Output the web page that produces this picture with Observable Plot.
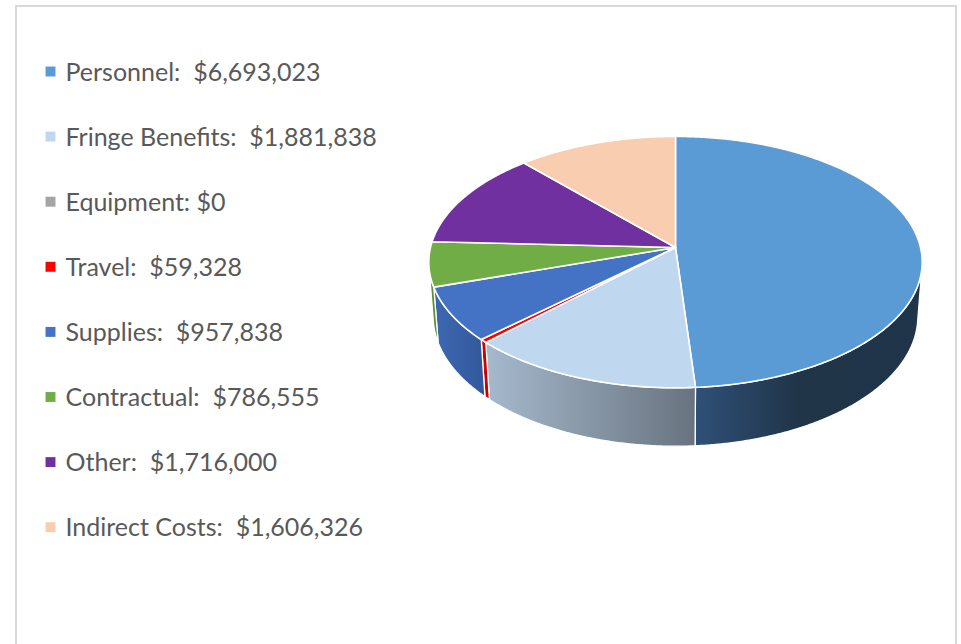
<!DOCTYPE html>
<html><head><meta charset="utf-8">
<script src="https://cdn.jsdelivr.net/npm/d3@7"></script>
<script src="https://cdn.jsdelivr.net/npm/@observablehq/plot@0.6"></script>
<style>
html,body{margin:0;padding:0;background:#fff;}
#chart{position:absolute;left:0;top:0;}
#frame{position:absolute;left:15px;top:5px;width:942px;height:700px;border:2px solid #d9d9d9;box-sizing:border-box;z-index:2;pointer-events:none;}
</style></head><body>
<div id="chart"></div>
<div id="frame"></div>
<script>
// ---- data ----
const categories = ["Personnel", "Fringe Benefits", "Equipment", "Travel", "Supplies", "Contractual", "Other", "Indirect Costs"];
const values = [6693023, 1881838, 0, 59328, 957838, 786555, 1716000, 1606326];
const labels = ["Personnel:  $6,693,023", "Fringe Benefits:  $1,881,838", "Equipment: $0", "Travel:  $59,328",
  "Supplies:  $957,838", "Contractual:  $786,555", "Other:  $1,716,000", "Indirect Costs:  $1,606,326"];
const topColors = ["#5b9bd5", "#c0d8ef", "#a5a5a5", "#ff0000", "#4472c4", "#70ad47", "#7030a0", "#f9cdaf"];
const wallLeft  = ["#2f5078", "#a6b9cd", "#8a8a8a", "#e00000", "#3d68b0", "#5f9a3c", "#5a2585", "#d9ad90"];
const wallRight = ["#213548", "#68737f", "#6a6a6a", "#c00000", "#33589c", "#558a35", "#4b1f70", "#c9a080"];

// ---- projection of a tilted 3D disc ----
const D = 7.41, phi = 30.4 * Math.PI / 180, s = Math.sin(phi), c = Math.cos(phi);
const F = 245 * D, T = 0.261, CX = 675, CY = 247;
function proj3(x, y, z) {
  const cy = y * c - z * s;
  const depth = D - (y * s + z * c);
  return {x: CX + F * x / depth, y: CY - F * cy / depth};
}
const rim = (theta, h) => proj3(Math.sin(theta), h, -Math.cos(theta));
const center = proj3(0, 0, 0);
const arcs = d3.pie().sort(null).value(d => d)(values);
const tv = Math.acos(-1 / (D * c)); // visible wall range (tv, 2pi - tv)
function arcPts(a0, a1, h) {
  const n = Math.max(2, Math.ceil(Math.abs(a1 - a0) / (0.4 * Math.PI / 180)));
  return d3.range(n + 1).map(k => rim(a0 + (a1 - a0) * k / n, h));
}
const tops = [], walls = [];
arcs.forEach((a, i) => {
  if (a.endAngle - a.startAngle <= 0) return;
  const pts = [center, ...arcPts(a.startAngle, a.endAngle, 0), center];
  tops.push({i, pts});
  const w0 = Math.max(a.startAngle, tv), w1 = Math.min(a.endAngle, 2 * Math.PI - tv);
  if (w1 > w0) {
    const p = [...arcPts(w0, w1, 0), ...arcPts(w1, w0, -T)];
    p.push(p[0]);
    walls.push({i, pts: p});
  }
});

const legend = categories.map((name, i) => ({name, label: labels[i], color: topColors[i], row: i}));
const rowY = r => 72 + r * 65.1;

const marks = [
  ...walls.map(w => Plot.line(w.pts, {x: "x", y: "y", fill: `url(#wall${w.i})`, stroke: "white", strokeWidth: 1.3, strokeLinejoin: "round"})),
  ...tops.map(t => Plot.line(t.pts, {x: "x", y: "y", fill: topColors[t.i], stroke: "white", strokeWidth: 1.6, strokeLinejoin: "round"})),
  Plot.dot(legend, {x: () => 50, y: d => rowY(d.row) - 1, symbol: "square", r: 5.6, fill: "color", stroke: null}),
  Plot.text(legend, {x: () => 65, y: d => rowY(d.row), text: "label", textAnchor: "start", fill: "#595959",
    fontSize: 25, fontFamily: "Lato, 'Open Sans', sans-serif"})
];

const chart = Plot.plot({
  width: 961, height: 644, margin: 0,
  x: {domain: [0, 961], axis: null},
  y: {domain: [644, 0], axis: null},
  color: {type: "identity"},
  style: {background: "transparent"},
  marks
});
// gradients for wall shading
const defs = d3.select(chart).insert("defs", ":first-child");
walls.forEach(w => {
  const g = defs.append("linearGradient").attr("id", `wall${w.i}`).attr("x1", 0).attr("x2", 1).attr("y1", 0).attr("y2", 0);
  g.append("stop").attr("offset", 0).attr("stop-color", wallLeft[w.i]);
  g.append("stop").attr("offset", w.i === 0 ? 0.45 : 1).attr("stop-color", wallRight[w.i]);
  if (w.i === 0) g.append("stop").attr("offset", 1).attr("stop-color", "#20344a");
});
document.getElementById("chart").appendChild(chart);
</script>
</body></html>
